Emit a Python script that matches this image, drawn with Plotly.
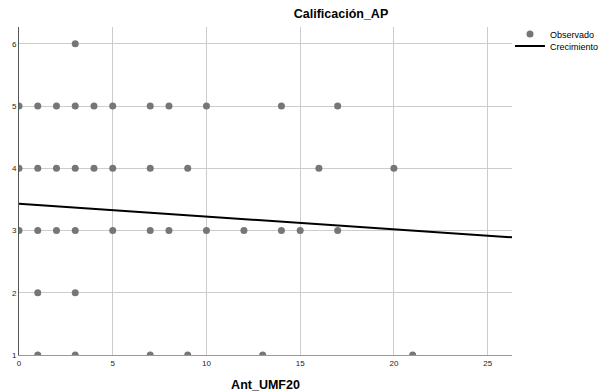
import plotly.graph_objects as go

# Observed points (Ant_UMF20, Calificación_AP)
obs_x = [3,
         0, 1, 2, 3, 4, 5, 7, 8, 10, 14, 17,
         0, 1, 2, 3, 4, 5, 7, 9, 16, 20,
         0, 1, 2, 3, 5, 7, 8, 10, 12, 14, 15, 17,
         1, 3,
         1, 3, 7, 9, 13, 21]
obs_y = [6,
         5, 5, 5, 5, 5, 5, 5, 5, 5, 5, 5,
         4, 4, 4, 4, 4, 4, 4, 4, 4, 4,
         3, 3, 3, 3, 3, 3, 3, 3, 3, 3, 3, 3,
         2, 2,
         1, 1, 1, 1, 1, 1]

# Growth fit line
fit_x = [0, 26.3]
fit_y = [3.43, 2.89]

xticks = [0, 5, 10, 15, 20, 25]
yticks = [1, 2, 3, 4, 5, 6]

FONT = "Liberation Sans, Arial, sans-serif"

fig = go.Figure()
fig.add_trace(go.Scatter(x=obs_x, y=obs_y, mode="markers", name="Observado",
                         legend="legend", showlegend=True,
                         marker=dict(color="#767676", size=7, line=dict(width=0))))
fig.add_trace(go.Scatter(x=fit_x, y=fit_y, mode="lines", name="Crecimiento",
                         legend="legend2", showlegend=True,
                         line=dict(color="#000000", width=2)))

legend_common = dict(xref="container", yref="container", xanchor="left", yanchor="middle",
                     bgcolor="rgba(0,0,0,0)", borderwidth=0,
                     font=dict(size=9, color="#000000", family=FONT), itemwidth=30)

fig.update_layout(
    width=600, height=392,
    showlegend=True,
    margin=dict(l=19, r=88, t=27, b=37, autoexpand=False),
    paper_bgcolor="white", plot_bgcolor="white",
    font=dict(family=FONT, color="#222222", size=8),
    title=dict(text="<b>Calificación_AP</b>", x=341/600, xanchor="center", y=1-14/392, yanchor="middle",
               font=dict(size=12.5, color="#000000", family=FONT)),
    legend=dict(x=510/600, y=1-34/392, **legend_common),
    legend2=dict(x=510/600, y=1-46/392, **legend_common),
    xaxis=dict(range=[0, 26.3], tickvals=xticks, showgrid=True, gridcolor="#cccccc", gridwidth=1,
               zeroline=False, showline=True, linecolor="#999999", linewidth=1,
               ticks="", tickfont=dict(size=8, color="#222222"), automargin=False,
               title=dict(text="<b>Ant_UMF20</b>", font=dict(size=12.5, color="#000000"), standoff=15)),
    yaxis=dict(range=[1, 6.27], tickvals=yticks, showgrid=True, gridcolor="#cccccc", gridwidth=1,
               zeroline=False, showline=True, linecolor="#555555", linewidth=1,
               ticks="", tickfont=dict(size=8, color="#222222"), automargin=False),
)

fig.write_html("out.html")
